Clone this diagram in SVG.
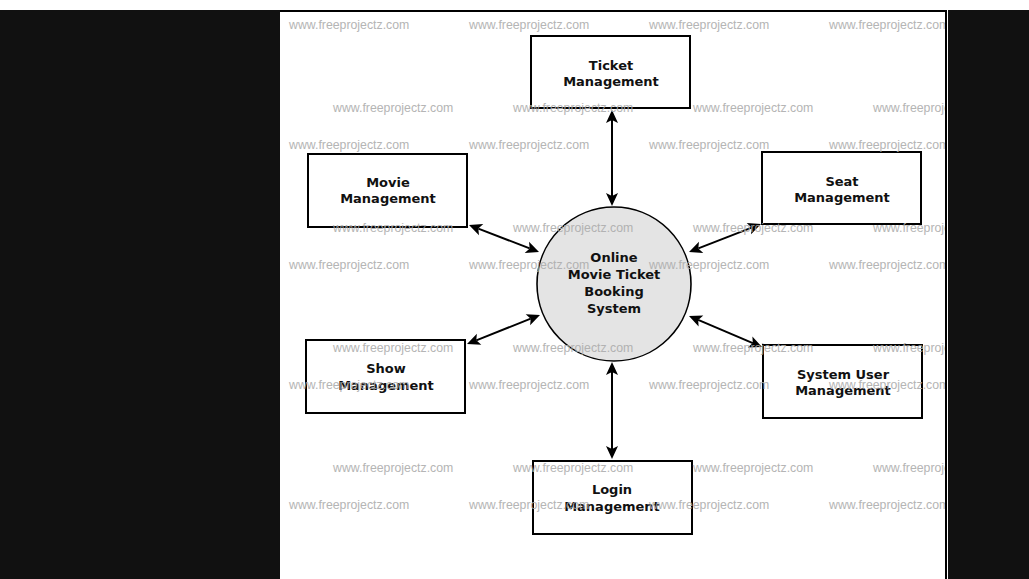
<svg xmlns="http://www.w3.org/2000/svg" width="1029" height="579" viewBox="0 0 1029 579">
<defs>
<style>
.node rect{fill:#fff;stroke:#000;stroke-width:2}
.lbl{font-family:"DejaVu Sans",sans-serif;font-weight:bold;font-size:13px;fill:#111;text-anchor:middle}
.wm{font-family:"Liberation Sans",Arial,sans-serif;font-size:12.3px;fill:#adadad}
.conn line{stroke:#000;stroke-width:2}
.conn polygon{fill:#000;stroke:none}
</style>
<clipPath id="page"><rect x="281" y="12" width="664" height="567"/></clipPath>
</defs>
<rect x="0" y="0" width="1029" height="579" fill="#fff"/>
<rect x="0" y="10" width="280" height="569" fill="#111"/>
<rect x="948" y="10" width="81" height="569" fill="#111"/>
<rect x="280" y="10" width="667" height="2" fill="#000"/>
<rect x="945" y="10" width="2" height="569" fill="#000"/>

<g class="conn" id="connectors">
<line x1="612" y1="120" x2="612" y2="196"/>
<polygon points="612,110 618,123 612,120 606,123"/>
<polygon points="612,206 606,193 612,196 618,193"/>

<line x1="478.33" y1="228.6" x2="529.67" y2="248.4"/>
<polygon points="469,225 483.29,224.08 478.33,228.6 478.97,235.28"/>
<polygon points="539,252 524.71,252.92 529.67,248.4 529.03,241.72"/>

<line x1="751.68" y1="227.63" x2="698.32" y2="248.38"/>
<polygon points="761,224 746.71,223.12 751.68,227.63 751.05,234.3"/>
<polygon points="689,252 698.95,241.7 698.32,248.38 703.3,252.88"/>

<line x1="476.29" y1="340.31" x2="530.71" y2="318.69"/>
<polygon points="467,344 481.29,344.77 476.29,340.31 476.87,333.63"/>
<polygon points="540,315 530.13,325.37 530.71,318.69 525.71,314.23"/>

<line x1="752.8" y1="343.09" x2="698.2" y2="319.91"/>
<polygon points="762,347 752.39,336.4 752.8,343.09 747.69,347.44"/>
<polygon points="689,316 703.31,315.56 698.2,319.91 698.61,326.6"/>

<line x1="612" y1="372" x2="612" y2="449"/>
<polygon points="612,362 618,375 612,372 606,375"/>
<polygon points="612,459 606,446 612,449 618,446"/>
</g>

<g id="center">
<circle cx="614" cy="284" r="77" fill="#e4e4e4" stroke="#000" stroke-width="1.6"/>
<text class="lbl" x="614" y="262">Online</text>
<text class="lbl" x="614" y="279">Movie Ticket</text>
<text class="lbl" x="614" y="296">Booking</text>
<text class="lbl" x="614" y="313">System</text>
</g>
<g class="node" id="ticket">
<rect x="531" y="36" width="159" height="72"/>
<text class="lbl" x="611" y="70">Ticket</text>
<text class="lbl" x="611" y="86">Management</text>
</g>
<g class="node" id="movie">
<rect x="308" y="154" width="159" height="73"/>
<text class="lbl" x="388" y="187">Movie</text>
<text class="lbl" x="388" y="203">Management</text>
</g>
<g class="node" id="seat">
<rect x="762" y="152" width="159" height="72"/>
<text class="lbl" x="842" y="186">Seat</text>
<text class="lbl" x="842" y="202">Management</text>
</g>
<g class="node" id="show">
<rect x="306" y="340" width="159" height="73"/>
<text class="lbl" x="386" y="373">Show</text>
<text class="lbl" x="386" y="390">Management</text>
</g>
<g class="node" id="sysuser">
<rect x="763" y="345" width="159" height="73"/>
<text class="lbl" x="843" y="379">System User</text>
<text class="lbl" x="843" y="395">Management</text>
</g>
<g class="node" id="login">
<rect x="533" y="461" width="159" height="73"/>
<text class="lbl" x="612" y="494">Login</text>
<text class="lbl" x="612" y="511">Management</text>
</g>

<g id="watermarks" clip-path="url(#page)" class="wm" opacity="0.9">
<text x="289" y="29">www.freeprojectz.com</text><text x="469" y="29">www.freeprojectz.com</text><text x="649" y="29">www.freeprojectz.com</text><text x="829" y="29">www.freeprojectz.com</text>
<text x="333" y="112">www.freeprojectz.com</text><text x="513" y="112">www.freeprojectz.com</text><text x="693" y="112">www.freeprojectz.com</text><text x="873" y="112">www.freeprojectz.com</text>
<text x="289" y="149">www.freeprojectz.com</text><text x="469" y="149">www.freeprojectz.com</text><text x="649" y="149">www.freeprojectz.com</text><text x="829" y="149">www.freeprojectz.com</text>
<text x="333" y="232">www.freeprojectz.com</text><text x="513" y="232">www.freeprojectz.com</text><text x="693" y="232">www.freeprojectz.com</text><text x="873" y="232">www.freeprojectz.com</text>
<text x="289" y="269">www.freeprojectz.com</text><text x="469" y="269">www.freeprojectz.com</text><text x="649" y="269">www.freeprojectz.com</text><text x="829" y="269">www.freeprojectz.com</text>
<text x="333" y="352">www.freeprojectz.com</text><text x="513" y="352">www.freeprojectz.com</text><text x="693" y="352">www.freeprojectz.com</text><text x="873" y="352">www.freeprojectz.com</text>
<text x="289" y="389">www.freeprojectz.com</text><text x="469" y="389">www.freeprojectz.com</text><text x="649" y="389">www.freeprojectz.com</text><text x="829" y="389">www.freeprojectz.com</text>
<text x="333" y="472">www.freeprojectz.com</text><text x="513" y="472">www.freeprojectz.com</text><text x="693" y="472">www.freeprojectz.com</text><text x="873" y="472">www.freeprojectz.com</text>
<text x="289" y="509">www.freeprojectz.com</text><text x="469" y="509">www.freeprojectz.com</text><text x="649" y="509">www.freeprojectz.com</text><text x="829" y="509">www.freeprojectz.com</text>
<text x="333" y="589">www.freeprojectz.com</text><text x="513" y="589">www.freeprojectz.com</text><text x="693" y="589">www.freeprojectz.com</text><text x="873" y="589">www.freeprojectz.com</text>
</g>
</svg>
